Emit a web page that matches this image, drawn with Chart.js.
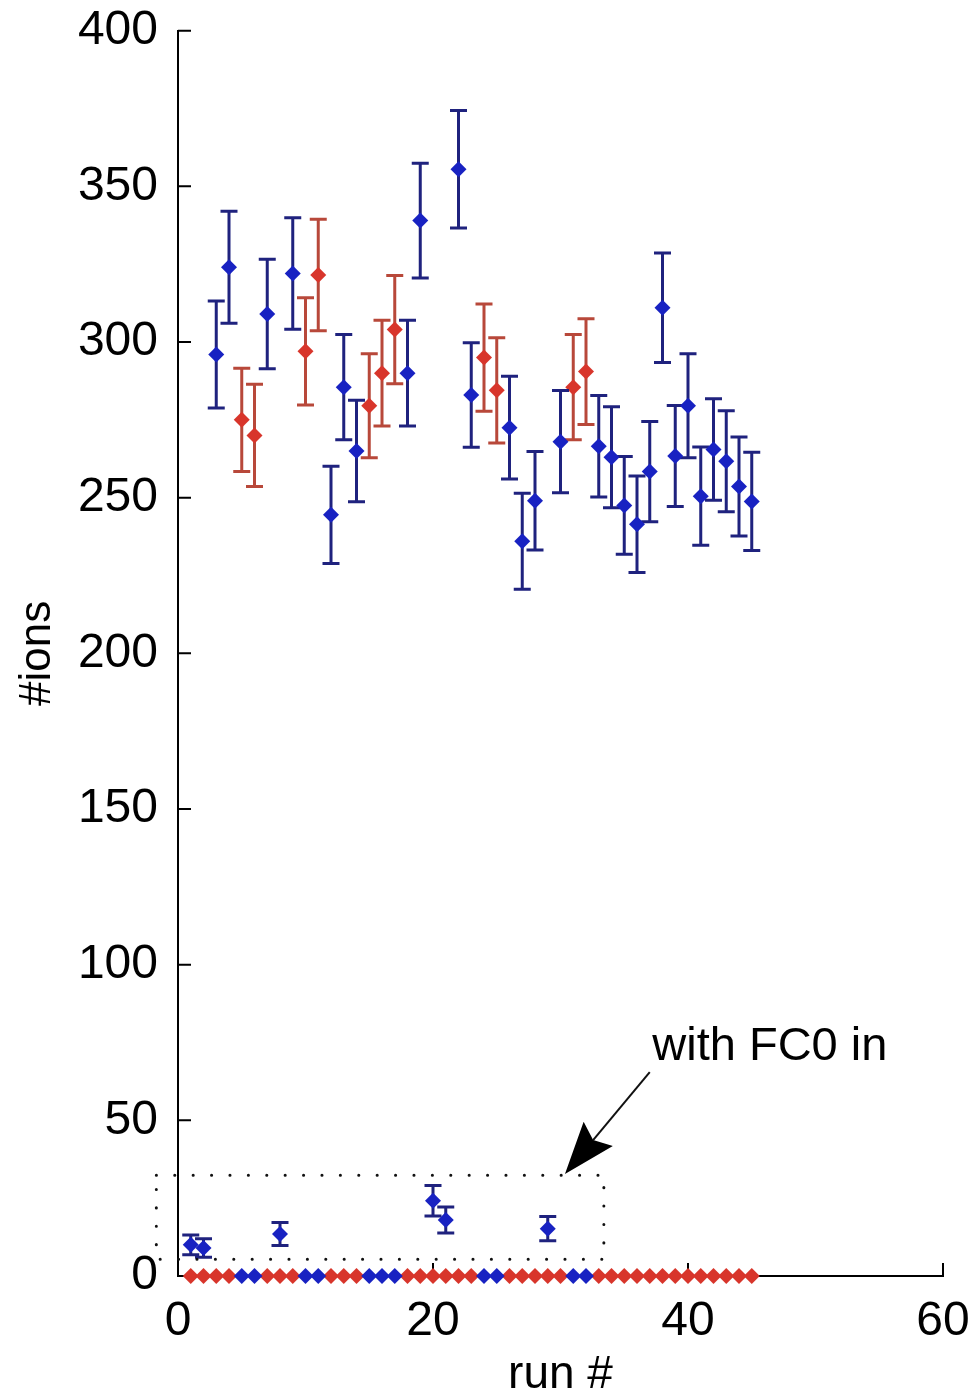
<!DOCTYPE html>
<html>
<head>
<meta charset="utf-8">
<script src="https://cdn.jsdelivr.net/npm/chart.js@4.4.1/dist/chart.umd.min.js"></script>
<style>
  html, body { margin: 0; padding: 0; background: #ffffff; }
  #wrap { width: 969px; height: 1400px; position: relative; }
</style>
</head>
<body>
<div id="wrap"><canvas id="c" width="969" height="1400"></canvas></div>
<script>
// Run numbers
const runs = [1, 2, 3, 4, 5, 6, 7, 8, 9, 10, 11, 12, 13, 14, 15, 16, 17, 18, 19, 20,
              21, 22, 23, 24, 25, 26, 27, 28, 29, 30, 31, 32, 33, 34, 35, 36, 37, 38, 39, 40,
              41, 42, 43, 44, 45];

// Blue series: ion counts per run and their error bars
const blueIons = [10, 9, 296, 324, 0, 0, 309, 13.5, 322, 0,
                  0, 244.5, 285.5, 265, 0, 0, 0, 290, 339, 24.2,
                  18, 355.5, 283, 0, 0, 272.5, 236, 249, 15.2, 268,
                  0, 0, 266.5, 263, 247.5, 241.5, 258.4, 311, 263.4, 279.5,
                  250.5, 265.5, 261.7, 253.6, 248.8];
const blueErr  = [3.2, 3.0, 17.2, 18.0, 0, 0, 17.6, 3.7, 17.9, 0,
                  0, 15.6, 16.9, 16.3, 0, 0, 0, 17.0, 18.4, 4.9,
                  4.2, 18.9, 16.8, 0, 0, 16.5, 15.4, 15.8, 3.9, 16.4,
                  0, 0, 16.3, 16.2, 15.7, 15.5, 16.1, 17.6, 16.2, 16.7,
                  15.8, 16.3, 16.2, 15.9, 15.8];

// Red series: ion counts per run and their error bars
const redIons  = [0, 0, 0, 0, 275, 270, 0, 0, 0, 297,
                  321.5, 0, 0, 0, 279.5, 290, 304, 0, 0, 0,
                  0, 0, 0, 295, 284.5, 0, 0, 0, 0, 0,
                  285.5, 290.5, 0, 0, 0, 0, 0, 0, 0, 0,
                  0, 0, 0, 0, 0];
const redErr   = [0, 0, 0, 0, 16.6, 16.4, 0, 0, 0, 17.2,
                  17.9, 0, 0, 0, 16.7, 17.0, 17.4, 0, 0, 0,
                  0, 0, 0, 17.2, 16.9, 0, 0, 0, 0, 0,
                  16.9, 17.0, 0, 0, 0, 0, 0, 0, 0, 0,
                  0, 0, 0, 0, 0];

// Axis ticks
const xTicks = [0, 20, 40, 60];
const yTicks = [0, 50, 100, 150, 200, 250, 300, 350, 400];

// Annotation: dotted box around the "FC0 in" runs, arrow and note (data units)
const noteText = 'with FC0 in';
const noteAt = [37.2, 69.4];
const boxX = [-1.7, 33.4];
const boxY = [5.4, 32.4];
const arrowFrom = [37.0, 65.5];
const arrowTo = [30.35, 32.8];

const FONT = "'Liberation Sans', Arial, Helvetica, sans-serif";

// Inward tick marks, drawn along the left and bottom axes
const inwardTicks = {
  id: 'inwardTicks',
  beforeDatasetsDraw(chart) {
    const { ctx, chartArea: a } = chart;
    const xs = chart.scales.x, ys = chart.scales.y;
    ctx.save();
    ctx.strokeStyle = '#000';
    ctx.lineWidth = 2;
    ctx.beginPath();
    xs.ticks.forEach(t => {
      const px = xs.getPixelForValue(t.value);
      ctx.moveTo(px, a.bottom);
      ctx.lineTo(px, a.bottom - 13);
    });
    ys.ticks.forEach(t => {
      const py = ys.getPixelForValue(t.value);
      ctx.moveTo(a.left, py);
      ctx.lineTo(a.left + 13, py);
    });
    ctx.stroke();
    ctx.restore();
  }
};

// Vertical error bars with caps, drawn under each dataset's markers
const errorBars = {
  id: 'errorBars',
  beforeDatasetDraw(chart, args) {
    const ds = chart.data.datasets[args.index];
    const err = ds.errors;
    if (!err) return;
    const { ctx } = chart;
    const xs = chart.scales.x, ys = chart.scales.y;
    ctx.save();
    ctx.strokeStyle = ds.barColor;
    ctx.lineWidth = 3;
    ctx.beginPath();
    ds.data.forEach((p, i) => {
      if (!err[i]) return;
      const px = xs.getPixelForValue(p.x);
      const top = ys.getPixelForValue(p.y + err[i]);
      const bot = ys.getPixelForValue(p.y - err[i]);
      ctx.moveTo(px, top); ctx.lineTo(px, bot);
      ctx.moveTo(px - 8.5, top); ctx.lineTo(px + 8.5, top);
      ctx.moveTo(px - 8.5, bot); ctx.lineTo(px + 8.5, bot);
    });
    ctx.stroke();
    ctx.restore();
  }
};

// Dotted box, arrow and note text
const fcoNote = {
  id: 'fcoNote',
  afterDatasetsDraw(chart) {
    const { ctx } = chart;
    const xs = chart.scales.x, ys = chart.scales.y;
    ctx.save();

    // dotted box
    const bx0 = xs.getPixelForValue(boxX[0]), bx1 = xs.getPixelForValue(boxX[1]);
    const by0 = ys.getPixelForValue(boxY[0]), by1 = ys.getPixelForValue(boxY[1]);
    ctx.strokeStyle = '#111';
    ctx.lineWidth = 3;
    ctx.lineCap = 'round';
    ctx.setLineDash([0.1, 18.3]);
    ctx.beginPath();
    ctx.moveTo(bx0, by1); ctx.lineTo(bx1, by1); ctx.lineTo(bx1, by0);
    ctx.lineTo(bx0, by0); ctx.closePath();
    ctx.stroke();
    ctx.setLineDash([]);
    ctx.lineCap = 'butt';

    // arrow
    const tx = xs.getPixelForValue(arrowFrom[0]), ty = ys.getPixelForValue(arrowFrom[1]);
    const hx = xs.getPixelForValue(arrowTo[0]), hy = ys.getPixelForValue(arrowTo[1]);
    const len = Math.hypot(hx - tx, hy - ty);
    const ux = (hx - tx) / len, uy = (hy - ty) / len;
    const vx = -uy, vy = ux;
    const headLen = 52, headHalf = 19, notch = 44;
    ctx.strokeStyle = '#111';
    ctx.lineWidth = 2;
    ctx.beginPath();
    ctx.moveTo(tx, ty);
    ctx.lineTo(hx - ux * notch, hy - uy * notch);
    ctx.stroke();
    ctx.fillStyle = '#000';
    ctx.beginPath();
    ctx.moveTo(hx, hy);
    ctx.lineTo(hx - ux * headLen + vx * headHalf, hy - uy * headLen + vy * headHalf);
    ctx.lineTo(hx - ux * notch, hy - uy * notch);
    ctx.lineTo(hx - ux * headLen - vx * headHalf, hy - uy * headLen - vy * headHalf);
    ctx.closePath();
    ctx.fill();

    // note text
    ctx.font = '47px ' + FONT;
    ctx.fillStyle = '#000';
    ctx.textAlign = 'left';
    ctx.textBaseline = 'alphabetic';
    ctx.fillText(noteText, xs.getPixelForValue(noteAt[0]), ys.getPixelForValue(noteAt[1]));
    ctx.restore();
  }
};

const toPoints = vals => runs.map((r, i) => ({ x: r, y: vals[i] }));

new Chart(document.getElementById('c'), {
  type: 'scatter',
  data: {
    datasets: [
      {
        label: 'blue',
        data: toPoints(blueIons),
        errors: blueErr,
        barColor: '#1f227e',
        backgroundColor: '#1822c2',
        pointStyle: 'rectRot',
        pointRadius: 8,
        pointBorderWidth: 0,
        clip: false
      },
      {
        label: 'red',
        data: toPoints(redIons),
        errors: redErr,
        barColor: '#b8483a',
        backgroundColor: '#d8352b',
        pointStyle: 'rectRot',
        pointRadius: 8,
        pointBorderWidth: 0,
        clip: false
      }
    ]
  },
  options: {
    responsive: false,
    animation: false,
    devicePixelRatio: 1,
    events: [],
    layout: { padding: { top: 30.7, right: 26, left: 0, bottom: 0 } },
    plugins: { legend: { display: false }, tooltip: { enabled: false } },
    scales: {
      x: {
        type: 'linear',
        min: 0,
        max: 60,
        afterBuildTicks: s => { s.ticks = xTicks.map(v => ({ value: v })); },
        grid: { display: false },
        border: { display: true, color: '#000', width: 2 },
        ticks: { color: '#000', font: { family: FONT, size: 48 }, padding: 9, maxRotation: 0, autoSkip: false },
        title: { display: true, text: 'run #', color: '#000', font: { family: FONT, size: 46, lineHeight: 1 }, padding: { top: 0, bottom: 2 } },
        afterFit: s => { s.height = 124; s.paddingLeft = 0; s.paddingRight = 0; }
      },
      y: {
        type: 'linear',
        min: 0,
        max: 400,
        afterBuildTicks: s => { s.ticks = yTicks.map(v => ({ value: v })); },
        grid: { display: false },
        border: { display: true, color: '#000', width: 2 },
        ticks: { color: '#000', font: { family: FONT, size: 48 }, padding: 12, autoSkip: false },
        title: { display: true, text: '#ions', color: '#000', font: { family: FONT, size: 44, lineHeight: 1 }, padding: { top: 16, bottom: 0 } },
        afterFit: s => { s.width = 178; s.paddingTop = 0; s.paddingBottom = 0; }
      }
    }
  },
  plugins: [inwardTicks, errorBars, fcoNote]
});
</script>
</body>
</html>
